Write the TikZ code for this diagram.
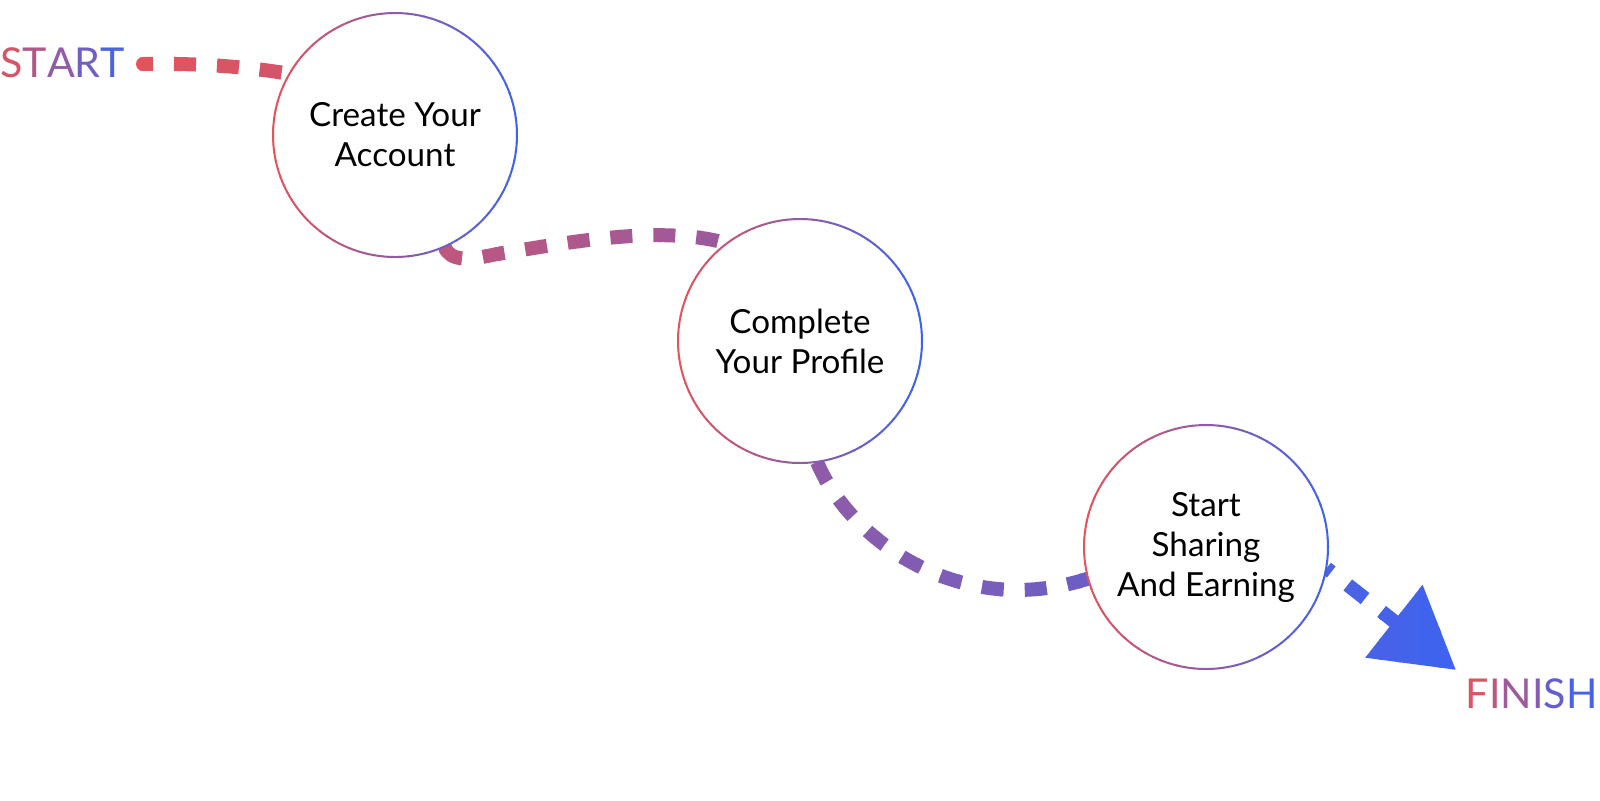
\documentclass[tikz,border=0pt]{standalone}
\usepackage{fontspec}
\setmainfont{Lato}
\usetikzlibrary{arrows.meta}
\definecolor{gRed}{HTML}{E5535B}
\definecolor{gBlue}{HTML}{3D63EF}
\colorlet{k1}{gBlue!8!gRed}
\colorlet{k2}{gBlue!30!gRed}
\colorlet{k3}{gBlue!50!gRed}
\colorlet{k4}{gBlue!70!gRed}
\colorlet{k5}{gBlue!92!gRed}
\colorlet{f1}{gBlue!6!gRed}
\colorlet{f2}{gBlue!24!gRed}
\colorlet{f3}{gBlue!42!gRed}
\colorlet{f4}{gBlue!58!gRed}
\colorlet{f5}{gBlue!76!gRed}
\colorlet{f6}{gBlue!94!gRed}
\pgfdeclarelayer{bg}
\pgfsetlayers{bg,main}
\tikzset{
  stepcircle/.style={circle, minimum size=122pt, inner sep=0pt, fill=white, align=center,
    font=\fontsize{16.6}{20}\selectfont, text=black},
  endlabel/.style={inner sep=0pt, font=\fontsize{20.6}{24}\selectfont},
  conn/.style={line width=7pt, dash pattern=on 11pt off 10.5pt, draw=cc},
  ring/.style={line width=1pt},
}
\begin{document}
\begin{tikzpicture}[x=0.5pt,y=-0.5pt]
\useasboundingbox (0,0) rectangle (1600,800);
\node[stepcircle] (c1) at (395,135) {Create Your\\Account};
\node[stepcircle] (c2) at (800,341) {Complete\\Your Profile};
\node[stepcircle] (c3) at (1206,547) {Start\\Sharing\\And Earning};
\foreach \n in {c1,c2,c3}{
  \foreach \a in {0,4,...,356}{
    \pgfmathsetmacro\t{50+50*cos(\a+2)}
    \draw[ring, draw=gBlue!\t!gRed] (\n.center) ++(\a:61pt) arc[start angle=\a, end angle=\a+4.4, radius=61pt];
  }
}
\node[endlabel, anchor=west] (start) at (0,63) {\textcolor{k1}{S}\textcolor{k2}{T}\textcolor{k3}{A}\textcolor{k4}{R}\textcolor{k5}{T}};
\node[endlabel, anchor=east] (finish) at (1598,694) {\textcolor{f1}{F}\textcolor{f2}{I}\textcolor{f3}{N}\textcolor{f4}{I}\textcolor{f5}{S}\textcolor{f6}{H}};
\coordinate (sdot) at (143,64);
\coordinate (tip) at (1456,670);
\begin{pgfonlayer}{bg}
\foreach \s in {0,...,68}{
  \pgfmathsetmacro\xa{120+20*\s}
  \pgfmathsetmacro\t{min(100,max(0,(\xa+10-140)/13.1))}
  \colorlet{cc}{gBlue!\t!gRed}
  \begin{scope}
    \clip (\xa-1,-10) rectangle (\xa+21,810);
    \fill[cc] (sdot) circle[radius=3.5pt];
    \draw[conn, dash phase=6pt] (sdot) .. controls (200,63) and (250,67) .. (c1.150);
    \draw[conn] (c1.-66) .. controls (450,262) and (470,260) .. (497,254) .. controls (560,244) and (660,224) .. (c2.127);
    \draw[conn] (c2.-82) .. controls (850,540) and (960,620) .. (c3.-165);
    \draw[conn, dash phase=8pt, -{Triangle[length=39.5pt,width=44.5pt]}] (c3.-10) -- (tip);
  \end{scope}
}
\end{pgfonlayer}
\end{tikzpicture}
\end{document}
